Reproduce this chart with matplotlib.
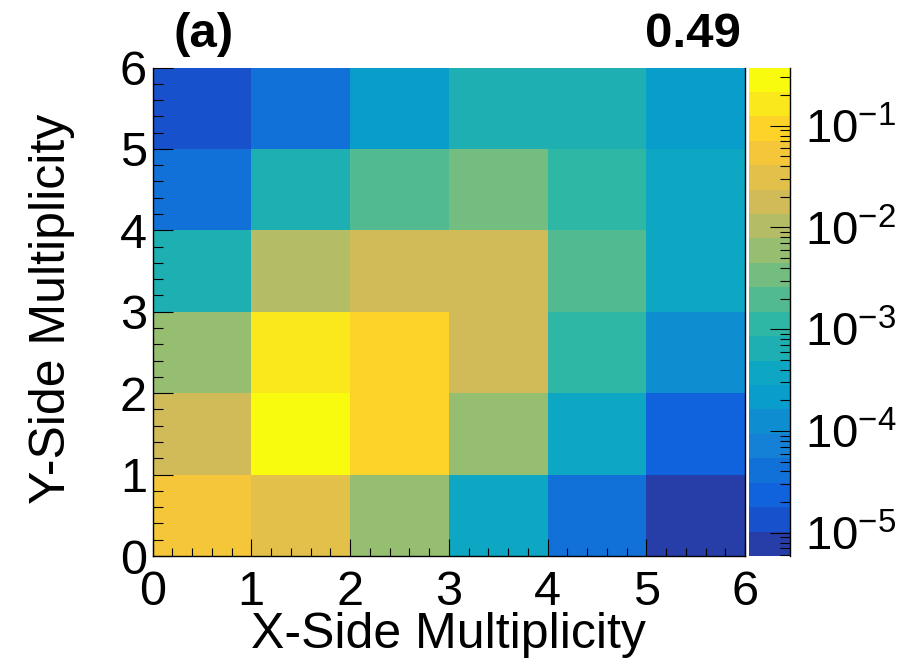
import numpy as np
import matplotlib
matplotlib.use('Agg')
import matplotlib.pyplot as plt
from matplotlib.colors import ListedColormap, LogNorm
from matplotlib.ticker import LogLocator, MultipleLocator, FixedLocator, NullFormatter
from matplotlib.lines import Line2D

plt.rcParams['font.family'] = ['Liberation Sans', 'DejaVu Sans']
plt.rcParams['mathtext.fontset'] = 'custom'
plt.rcParams['mathtext.rm'] = 'Liberation Sans'
plt.rcParams['mathtext.it'] = 'Liberation Sans:italic'
plt.rcParams['mathtext.bf'] = 'Liberation Sans:bold'

# ---- data ----
x_edges = [0, 1, 2, 3, 4, 5, 6]
y_edges = [0, 1, 2, 3, 4, 5, 6]
# each row: x bins 0-1 ... 5-6
row_y0 = [5.4e-2, 3.1e-2, 5.9e-3, 3.7e-4, 4.1e-5, 7.8e-6]
row_y1 = [1.8e-2, 0.28, 9.4e-2, 5.9e-3, 3.7e-4, 2.35e-5]
row_y2 = [5.9e-3, 0.16, 9.4e-2, 1.8e-2, 1.1e-3, 1.23e-4]
row_y3 = [6.5e-4, 1.03e-2, 1.8e-2, 1.8e-2, 1.95e-3, 3.7e-4]
row_y4 = [4.1e-5, 6.5e-4, 1.95e-3, 3.4e-3, 1.1e-3, 3.7e-4]
row_y5 = [1.35e-5, 4.1e-5, 2.1e-4, 6.5e-4, 6.5e-4, 2.1e-4]
z_min = 5.9e-6
z_max = 0.373
x_ticks = [0, 1, 2, 3, 4, 5, 6]
y_ticks = [0, 1, 2, 3, 4, 5, 6]
x_title = 'X-Side Multiplicity'
y_title = 'Y-Side Multiplicity'
panel_label = '(a)'
corner_value = '0.49'

# ---- ROOT kBird palette, 20 contour bands ----
stops = [0.0000, 0.1250, 0.2500, 0.3750, 0.5000, 0.6250, 0.7500, 0.8750, 1.0000]
red   = [0.2082, 0.0592, 0.0780, 0.0232, 0.1802, 0.5301, 0.8186, 0.9956, 0.9764]
green = [0.1664, 0.3599, 0.5041, 0.6419, 0.7178, 0.7492, 0.7328, 0.7862, 0.9832]
blue  = [0.5293, 0.8684, 0.8385, 0.7914, 0.6425, 0.4662, 0.3499, 0.1968, 0.0539]
n_pal = 255
n_bands = 20
band_cols = []
for i in range(n_bands):
    idx = int((i + 0.99) * n_pal / n_bands)
    f = idx / (n_pal - 1)
    band_cols.append((np.interp(f, stops, red), np.interp(f, stops, green), np.interp(f, stops, blue)))
cmap = ListedColormap(band_cols)
norm = LogNorm(vmin=z_min, vmax=z_max)

Z = np.array([row_y0, row_y1, row_y2, row_y3, row_y4, row_y5])

W, H = 898, 671
fig = plt.figure(figsize=(W / 100, H / 100), dpi=100)
L, R, T, B = 152.5, 745, 67.5, 556
ax = fig.add_axes([L / W, (H - B) / H, (R - L) / W, (B - T) / H])
cax = fig.add_axes([748.5 / W, (H - B) / H, (790 - 748.5) / W, (B - T) / H])

mesh = ax.pcolormesh(x_edges, y_edges, Z, cmap=cmap, norm=norm,
                     shading='flat', edgecolors='none', linewidth=0, antialiased=False)
ax.set_xlim(x_edges[0], x_edges[-1])
ax.set_ylim(y_edges[0], y_edges[-1])

for s in ['left', 'bottom', 'right']:
    ax.spines[s].set_linewidth(1.0)
ax.spines['top'].set_visible(False)

ax.xaxis.set_major_locator(FixedLocator(x_ticks))
ax.yaxis.set_major_locator(FixedLocator(y_ticks))
ax.xaxis.set_minor_locator(MultipleLocator(0.2))
ax.yaxis.set_minor_locator(MultipleLocator(0.2))
ax.tick_params(axis='x', which='major', direction='in', length=12.2, width=0.8,
               labelsize=35, pad=10, top=False, bottom=True)
ax.tick_params(axis='x', which='minor', direction='in', length=6.1, width=0.8,
               top=False, bottom=True)
ax.tick_params(axis='y', which='major', direction='in', length=14.4, width=0.8,
               labelsize=35, pad=4, right=False, left=True)
ax.tick_params(axis='y', which='minor', direction='in', length=7.2, width=0.8,
               right=False, left=True)

ax.set_xlabel(x_title, fontsize=36)
ax.xaxis.label.set_va('baseline')
ax.xaxis.set_label_coords((448 - L) / (R - L), (B - 648) / (B - T))
ax.set_ylabel(y_title, fontsize=36)
ax.yaxis.label.set_va('center')
ax.yaxis.set_label_coords((52 - L) / (R - L), (B - 309) / (B - T))

cb = fig.colorbar(mesh, cax=cax)
cb.outline.set_visible(False)
cax.add_line(Line2D([1, 1], [0, 1], transform=cax.transAxes, color='black',
                    lw=1.0, clip_on=False))
cax.yaxis.set_ticks_position('right')
cax.yaxis.set_major_locator(LogLocator(base=10))
cax.yaxis.set_minor_locator(LogLocator(base=10, subs=np.arange(2, 10)))
cax.yaxis.set_minor_formatter(NullFormatter())
cax.tick_params(which='major', direction='in', length=14.4, width=0.8,
                labelsize=34, pad=11)
cax.tick_params(which='minor', direction='in', length=7.2, width=0.8)

fig.text(173 / W, 1 - 47 / H, panel_label, fontsize=35.5, fontweight='bold',
         ha='left', va='baseline')
fig.text(741 / W, 1 - 47 / H, corner_value, fontsize=35.5, fontweight='bold',
         ha='right', va='baseline')

fig.savefig('out.png', dpi=100)
